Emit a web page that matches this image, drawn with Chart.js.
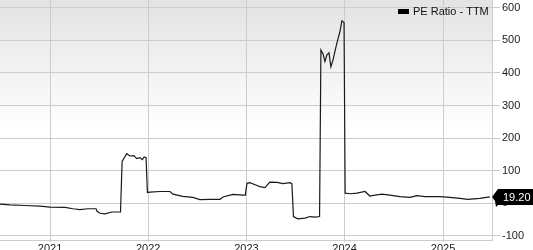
<!DOCTYPE html>
<html>
<head>
<meta charset="utf-8">
<script src="https://cdn.jsdelivr.net/npm/chart.js@4/dist/chart.umd.min.js"></script>
<style>
  html, body { margin: 0; padding: 0; background: #fff; }
  #wrap { width: 533px; height: 250px; }
</style>
</head>
<body>
<div id="wrap"><canvas id="chart"></canvas></div>
<script>
// PE ratio (TTM) readings
const dates = [
  '2020-06-29', '2020-08-05', '2020-09-30', '2020-11-25', '2021-01-01', '2021-02-26',
  '2021-03-27', '2021-04-22', '2021-05-22', '2021-06-21', '2021-06-25', '2021-07-06',
  '2021-07-24', '2021-08-19', '2021-09-11', '2021-09-20', '2021-09-26', '2021-10-13',
  '2021-10-25', '2021-11-09', '2021-11-19', '2021-12-01', '2021-12-10', '2021-12-17',
  '2021-12-24', '2021-12-29', '2022-01-08', '2022-02-14', '2022-03-23', '2022-04-03',
  '2022-05-10', '2022-06-16', '2022-07-12', '2022-08-19', '2022-09-25', '2022-10-06',
  '2022-11-12', '2022-12-19', '2022-12-28', '2023-01-03', '2023-01-14', '2023-02-05',
  '2023-02-20', '2023-03-11', '2023-03-29', '2023-04-25', '2023-05-17', '2023-06-12',
  '2023-06-19', '2023-06-25', '2023-07-11', '2023-08-07', '2023-08-25', '2023-09-13',
  '2023-09-30', '2023-10-05', '2023-10-13', '2023-10-20', '2023-10-27', '2023-11-04',
  '2023-11-11', '2023-11-19', '2023-11-30', '2023-12-07', '2023-12-15', '2023-12-22',
  '2023-12-30', '2024-01-03', '2024-01-21', '2024-02-16', '2024-03-17', '2024-04-04',
  '2024-04-23', '2024-05-19', '2024-06-17', '2024-07-25', '2024-08-31', '2024-09-26',
  '2024-10-26', '2024-12-20', '2025-01-26', '2025-03-05', '2025-04-03', '2025-05-18',
  '2025-06-24'
];
const peValues = [
  -3, -5, -7, -9, -12, -13,
  -17, -20, -17, -17, -25, -31,
  -33, -27, -27, -27, 128, 152,
  145, 146, 137, 140, 134, 142,
  140, 33, 34, 36, 36, 28,
  21, 18, 11, 12, 12, 19,
  27, 25, 25, 61, 63, 56,
  51, 48, 65, 64, 60, 63,
  60, -41, -48, -46, -41, -43,
  -41, 470, 458, 435, 455, 462,
  419, 440, 480, 503, 528, 560,
  555, 31, 29, 31, 36, 22,
  25, 28, 25, 20, 18, 23,
  20, 20, 18, 15, 12, 15,
  19.2
];
const seriesLabel = 'PE Ratio - TTM';
const yearTicks = [2021, 2022, 2023, 2024, 2025];
const valueTicks = [-100, 0, 100, 200, 300, 400, 500, 600];

const DAY = 86400000;
const toDay = s => Date.parse(s + 'T00:00:00Z') / DAY;
const points = dates.map((d, i) => ({ x: toDay(d), y: peValues[i] }));

const FONT = '"Liberation Sans", Arial, sans-serif';

// gray-to-white background behind the plot
const bgPlugin = {
  id: 'bg',
  beforeDraw(chart) {
    const { ctx, chartArea: a } = chart;
    const g = ctx.createLinearGradient(0, a.top, 0, a.top + 130);
    g.addColorStop(0, '#e3e3e3');
    g.addColorStop(1, '#ffffff');
    ctx.save();
    ctx.fillStyle = g;
    ctx.fillRect(a.left, a.top, a.right - a.left, a.bottom - a.top);
    ctx.restore();
  }
};

// legend inside the plot and the last-value tag on the axis
const overlayPlugin = {
  id: 'overlay',
  afterDraw(chart) {
    const { ctx, chartArea: a } = chart;
    const ds = chart.data.datasets[0];
    ctx.save();
    ctx.fillStyle = '#000';
    ctx.fillRect(398, 9, 11, 5);
    ctx.font = '11px ' + FONT;
    ctx.textBaseline = 'middle';
    ctx.fillStyle = '#111';
    ctx.fillText(ds.label, 413, 12);

    const last = ds.data[ds.data.length - 1].y;
    const y = chart.scales.y.getPixelForValue(last);
    ctx.fillStyle = '#000';
    ctx.beginPath();
    ctx.moveTo(a.right, y);
    ctx.lineTo(a.right + 6, y - 8);
    ctx.lineTo(533, y - 8);
    ctx.lineTo(533, y + 8);
    ctx.lineTo(a.right + 6, y + 8);
    ctx.lineTo(a.right + 4, y + 10);
    ctx.lineTo(a.right + 3, y + 4);
    ctx.closePath();
    ctx.fill();
    ctx.fillStyle = '#fff';
    ctx.textAlign = 'left';
    ctx.fillText(last.toFixed(2), a.right + 11, y + 1);
    ctx.restore();
  }
};

new Chart(document.getElementById('chart'), {
  type: 'line',
  data: {
    datasets: [{
      label: seriesLabel,
      data: points,
      borderColor: '#1a1a1a',
      borderWidth: 1.2,
      pointRadius: 0,
      tension: 0,
      fill: false
    }]
  },
  options: {
    responsive: true,
    maintainAspectRatio: false,
    animation: false,
    layout: { padding: 0 },
    plugins: {
      legend: { display: false },
      tooltip: { enabled: false }
    },
    scales: {
      x: {
        type: 'linear',
        min: toDay('2020-06-29'),
        max: toDay('2025-07-02'),
        afterBuildTicks(scale) {
          scale.ticks = yearTicks.map(y => ({ value: toDay(y + '-01-01') }));
        },
        afterFit(scale) {
          scale.height = 10;
          scale.paddingLeft = 0;
          scale.paddingRight = 0;
        },
        grid: { color: '#cccccc', lineWidth: 1, tickLength: 2 },
        border: { color: '#cccccc' },
        ticks: {
          padding: 0,
          maxRotation: 0,
          autoSkip: false,
          color: '#222',
          font: { family: FONT, size: 11 },
          callback: v => new Date(v * DAY).getUTCFullYear()
        }
      },
      y: {
        position: 'right',
        min: -113,
        max: 624,
        afterBuildTicks(scale) {
          scale.ticks = valueTicks.map(v => ({ value: v }));
        },
        afterFit(scale) {
          scale.width = 41;
          scale.paddingTop = 0;
          scale.paddingBottom = 0;
        },
        grid: { color: '#cccccc', lineWidth: 1, tickLength: 8 },
        border: { color: '#cccccc' },
        ticks: {
          padding: 2,
          color: '#222',
          font: { family: FONT, size: 11 }
        }
      }
    }
  },
  plugins: [bgPlugin, overlayPlugin]
});
</script>
</body>
</html>
